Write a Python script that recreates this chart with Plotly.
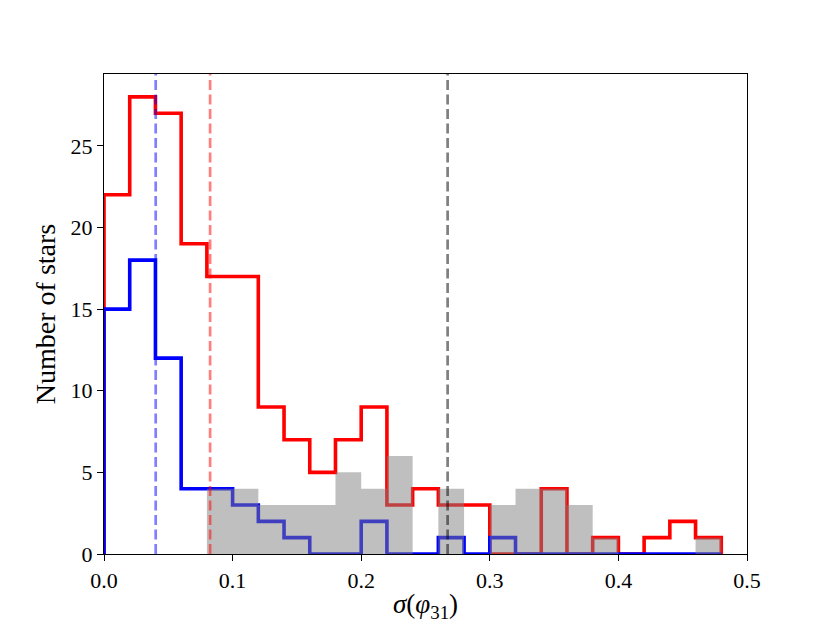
import plotly.graph_objects as go

# Histogram bin edges (width 0.02) and counts per bin
bin_edges = [round(0.02 * i, 2) for i in range(25)]
red_counts = [22, 28, 27, 19, 17, 17, 9, 7, 5, 7, 9, 3, 4, 3, 3, 0, 0, 4, 0, 1, 0, 1, 2, 1]
blue_counts = [15, 18, 12, 4, 4, 3, 2, 1, 0, 0, 2, 0, 0, 1, 0, 1, 0, 0, 0, 0, 0, 0, 0, 0]
gray_counts = [0, 0, 0, 0, 4, 4, 3, 3, 3, 5, 4, 6, 0, 4, 0, 3, 4, 4, 3, 1, 0, 0, 0, 1]

# Vertical reference lines (medians)
red_median = 0.0825
blue_median = 0.0402
gray_median = 0.2672

x_ticks = [0.0, 0.1, 0.2, 0.3, 0.4, 0.5]
y_ticks = [0, 5, 10, 15, 20, 25]
x_range = [0, 0.5]
y_range = [0, 29.4]


def step_xy(edges, counts):
    # outline of a step histogram, closed at both ends
    xs, ys = [edges[0]], [0]
    for i, c in enumerate(counts):
        xs += [edges[i], edges[i + 1]]
        ys += [c, c]
    xs.append(edges[-1])
    ys.append(0)
    return xs, ys


fig = go.Figure()

rx, ry = step_xy(bin_edges, red_counts)
fig.add_trace(go.Scatter(x=rx, y=ry, mode='lines', line=dict(color='#ff0000', width=3.6),
                         showlegend=False, hoverinfo='skip'))

bx, by = step_xy(bin_edges, blue_counts)
fig.add_trace(go.Scatter(x=bx, y=by, mode='lines', line=dict(color='#0000ff', width=3.6),
                         showlegend=False, hoverinfo='skip'))

# filled gray histogram on an overlaid copy of the axes so it sits on top of the lines
gx, gy = step_xy(bin_edges, gray_counts)
fig.add_trace(go.Scatter(x=gx, y=gy, mode='lines', line=dict(width=0),
                         fill='tozeroy', fillcolor='rgba(128,128,128,0.5)',
                         xaxis='x2', yaxis='y2',
                         showlegend=False, hoverinfo='skip'))

for xv, col in [(blue_median, 'rgba(0,0,255,0.5)'),
                (red_median, 'rgba(255,0,0,0.5)'),
                (gray_median, 'rgba(0,0,0,0.5)')]:
    fig.add_shape(type='line', x0=xv, x1=xv, y0=0, y1=1, xref='x', yref='paper',
                  line=dict(color=col, width=2.7, dash='10px,4.5px'), layer='above')

axis_style = dict(showline=True, mirror=True, linecolor='black', linewidth=1.4,
                  ticks='outside', ticklen=6, tickwidth=1.4, tickcolor='black',
                  showgrid=False, zeroline=False,
                  tickfont=dict(size=22, color='black'))

fig.update_layout(
    xaxis=dict(range=x_range, tickvals=x_ticks, tickformat='.1f',
               title=dict(text='<i>σ</i>(<i>φ</i><sub>31</sub>)', font=dict(size=27, color='black'),
                          standoff=6),
               **axis_style),
    yaxis=dict(range=y_range, tickvals=y_ticks,
               title=dict(text='Number of stars', font=dict(size=28, color='black'), standoff=6),
               **axis_style),
    xaxis2=dict(range=x_range, overlaying='x', visible=False),
    yaxis2=dict(range=y_range, overlaying='y', visible=False),
)

# page body adds an 8px offset, so the figure is a bit smaller than the window
fig.update_layout(
    width=822, height=615,
    margin=dict(l=96, r=83, t=66, b=69, autoexpand=False),
    plot_bgcolor='white', paper_bgcolor='white',
    font=dict(family='Liberation Serif', color='black'),
)

fig.write_html("out.html")
